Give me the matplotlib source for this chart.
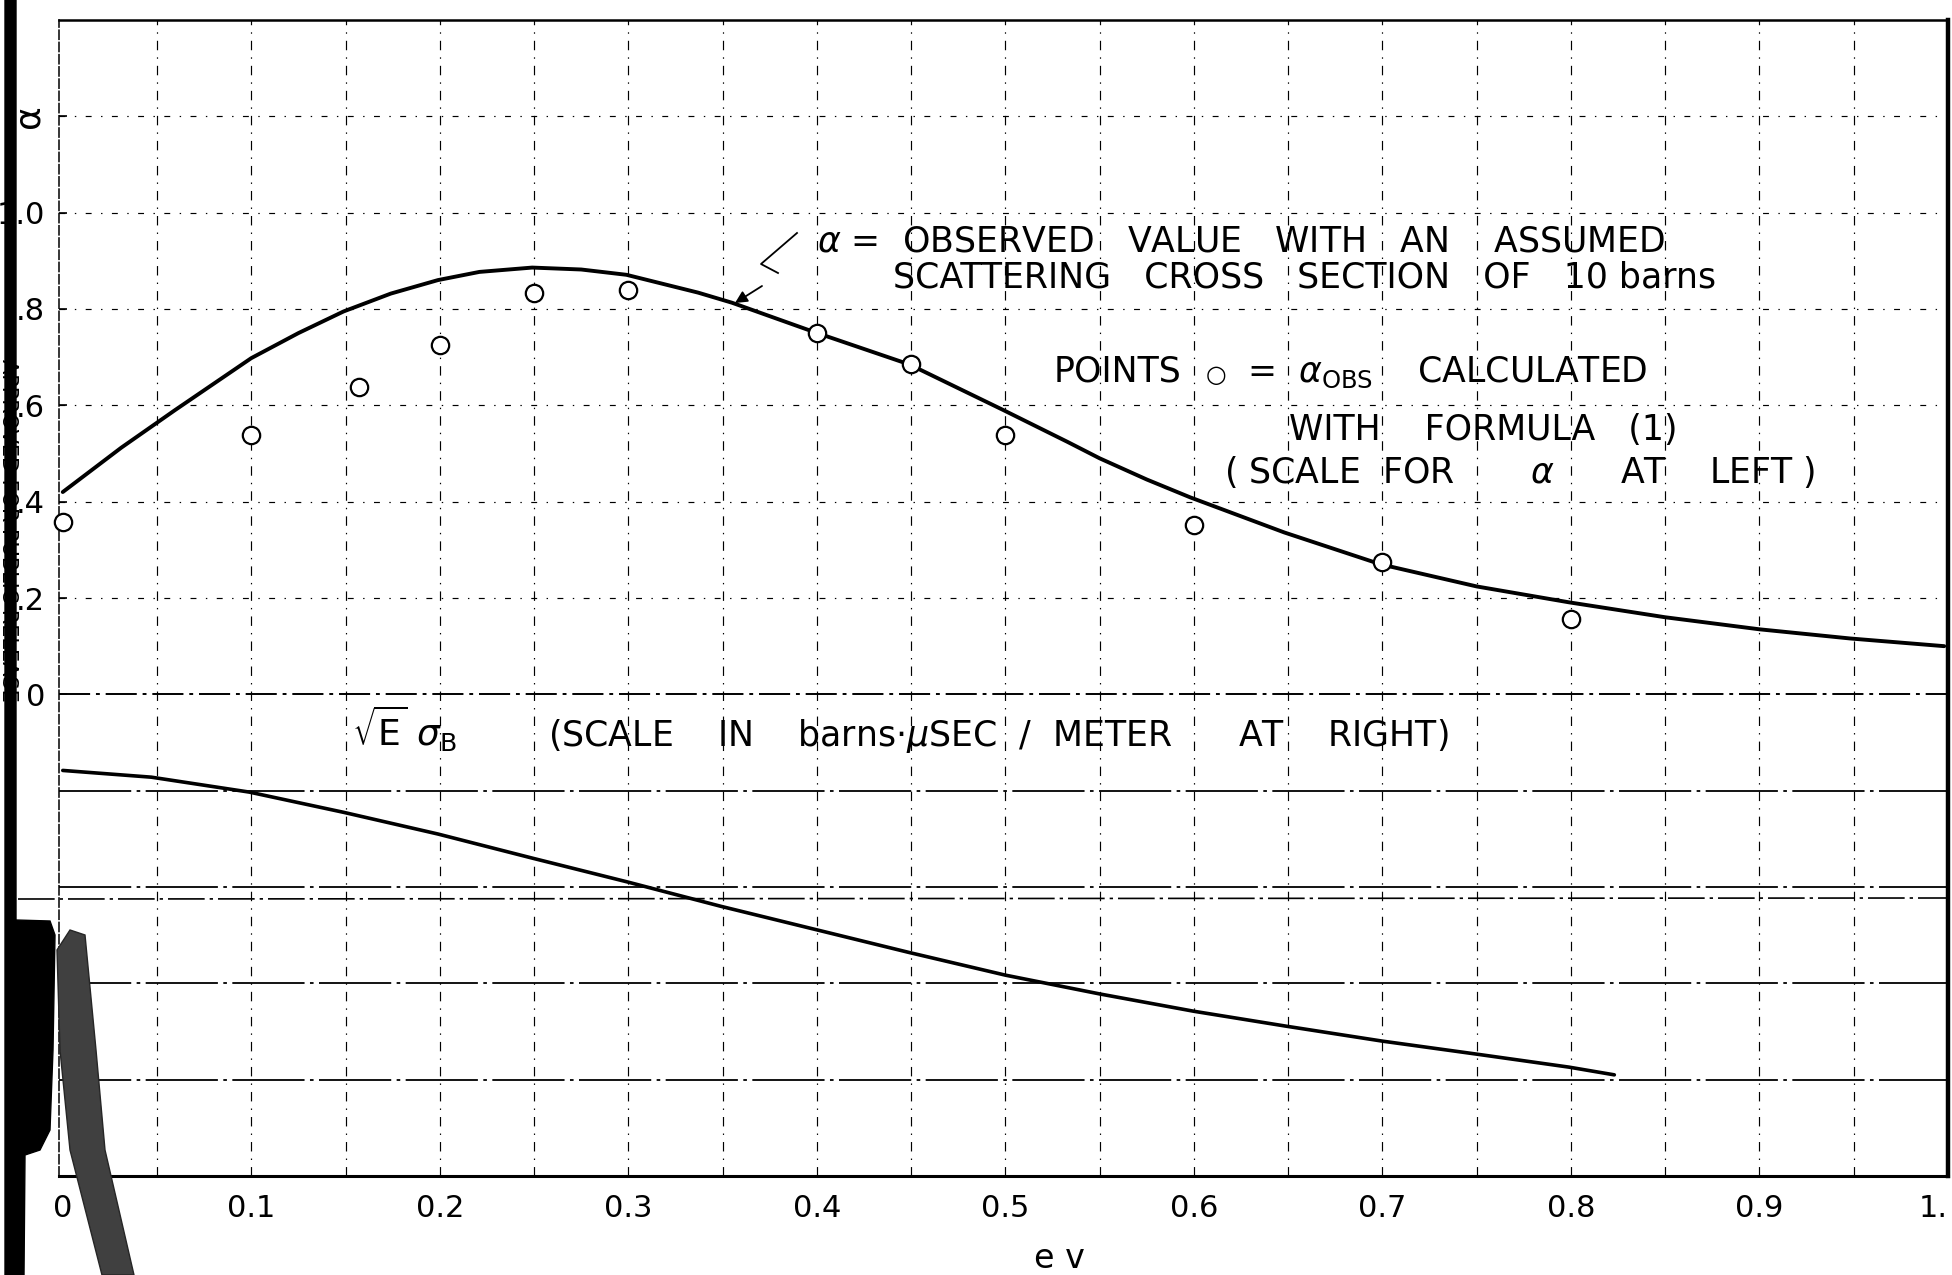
import matplotlib as mpl
mpl.use('Agg')
import matplotlib.pyplot as plt
from matplotlib.lines import Line2D
from matplotlib.patches import Polygon

plt.rcParams['font.family'] = ['DejaVu Sans']
plt.rcParams['mathtext.fontset'] = 'dejavusans'

W, H = 1952, 1275

# alpha = observed value with an assumed scattering cross section of 10 barns (left scale)
alpha_e = [0.0, 0.031, 0.0595, 0.10, 0.125, 0.149, 0.174, 0.199, 0.221, 0.249, 0.275,
           0.299, 0.337, 0.355, 0.398, 0.449, 0.499, 0.533, 0.550, 0.575, 0.598,
           0.648, 0.699, 0.750, 0.799, 0.850, 0.900, 0.948, 0.998]
alpha_val = [0.420, 0.512, 0.590, 0.698, 0.750, 0.795, 0.832, 0.860, 0.877, 0.886, 0.882,
             0.871, 0.834, 0.813, 0.753, 0.685, 0.590, 0.524, 0.490, 0.446, 0.409,
             0.336, 0.270, 0.224, 0.191, 0.160, 0.135, 0.116, 0.100]

# points: alpha_OBS calculated with formula (1)
obs_e = [0.0, 0.10, 0.157, 0.20, 0.25, 0.30, 0.40, 0.45, 0.50, 0.60, 0.70, 0.80]
obs_alpha = [0.357, 0.539, 0.639, 0.726, 0.834, 0.840, 0.751, 0.685, 0.539, 0.351, 0.274, 0.156]

sig_e = [0.0, 0.047, 0.099, 0.149, 0.199, 0.249, 0.300, 0.349, 0.399, 0.449, 0.500,
         0.550, 0.600, 0.649, 0.700, 0.750, 0.799, 0.823]
sig_val = [-0.158, -0.172, -0.203, -0.245, -0.290, -0.340, -0.390, -0.440, -0.488, -0.536,
           -0.583, -0.622, -0.658, -0.689, -0.720, -0.747, -0.774, -0.790]

x_ticks = [0.0, 0.1, 0.2, 0.3, 0.4, 0.5, 0.6, 0.7, 0.8, 0.9, 1.0]
x_ticklabels = ['0', '0.1', '0.2', '0.3', '0.4', '0.5', '0.6', '0.7', '0.8', '0.9', '1.']
y_ticks = [0.0, 0.2, 0.4, 0.6, 0.8, 1.0, 1.2]
y_ticklabels = ['0', '.2', '.4', '.6', '.8', '1.0', 'α']


def fx(px):
    return px / W


def fy(py):
    return 1 - py / H


fig = plt.figure(figsize=(W / 100, H / 100), dpi=100)
fig.patch.set_facecolor('white')
ax = fig.add_axes([fx(59), fy(1176), fx(1948) - fx(59), fy(20) - fy(1176)])
ax.set_xlim(-0.002, 1.0)
ax.set_ylim(-1.0, 1.4)

# hand drawn grid
for i in range(1, 20):
    ax.axvline(i * 0.05, color='k', lw=0.85, ls=(0, (8, 6, 1.2, 6)), zorder=1)
for y in [0.2, 0.4, 0.6, 0.8, 1.0, 1.2]:
    ax.axhline(y, color='k', lw=0.85, ls=(0, (5, 8, 1.2, 8)), zorder=1)
ax.axhline(0.0, color='k', lw=1.4, ls=(0, (16, 3, 2, 3)), zorder=1)
for y in [-0.2, -0.4, -0.6, -0.8]:
    ax.axhline(y, color='k', lw=1.3, ls=(0, (40, 3, 2, 3)), zorder=1)

ax.plot(alpha_e, alpha_val, color='k', lw=2.8, solid_capstyle='round',
        solid_joinstyle='round', zorder=3)
ax.plot(sig_e, sig_val, color='k', lw=2.6, solid_capstyle='round',
        solid_joinstyle='round', zorder=3)
ax.plot(obs_e, obs_alpha, 'o', mfc='white', mec='k', ms=12.5, mew=1.6,
        clip_on=False, zorder=5)

ax.set_xticks(x_ticks)
ax.set_xticklabels(x_ticklabels)
ax.set_yticks(y_ticks)
ax.set_yticklabels(y_ticklabels, family=['Liberation Sans Narrow', 'DejaVu Sans'])
ax.tick_params(axis='x', length=0, pad=13, labelsize=22)
ax.tick_params(axis='y', direction='in', length=6, width=1.2, pad=10, labelsize=22)
ax.get_xticklabels()[-1].set_ha('right')
a_lab = ax.get_yticklabels()[-1]
a_lab.set_rotation(90)
a_lab.set_va('center')
a_lab.set_fontsize(26)

ax.spines['top'].set_linewidth(1.8)
ax.spines['right'].set_linewidth(3.2)
ax.spines['bottom'].set_linewidth(2.2)
ax.spines['left'].set_linewidth(1.1)
ax.spines['left'].set_linestyle((0, (6, 2)))

ax.set_xlabel('e v', fontsize=24)
ax.xaxis.set_label_coords((1059 - 59) / 1889, (1176 - 1259) / 1156)
ax.xaxis.label.set_va('center')

# annotations
tkw = dict(fontsize=25, ha='left', va='baseline', color='k')
fig.text(fx(817), fy(251), r'$\alpha$ =  OBSERVED   VALUE   WITH   AN    ASSUMED', **tkw)
fig.text(fx(893), fy(288), 'SCATTERING   CROSS   SECTION   OF   10 barns', **tkw)
fig.text(fx(1054), fy(382), 'POINTS', **tkw)
fig.text(fx(1206), fy(382), '○', fontsize=17, ha='left', va='baseline')
fig.text(fx(1247), fy(382), r'=  $\alpha_{\mathrm{OBS}}$    CALCULATED', **tkw)
fig.text(fx(1289), fy(440), 'WITH    FORMULA   (1)', **tkw)
fig.text(fx(1224), fy(483), r'( SCALE  FOR       $\alpha$      AT    LEFT )', **tkw)
fig.text(fx(352), fy(746), r'$\sqrt{\mathrm{E}}\ \sigma_{\mathrm{B}}$', fontsize=26,
         ha='left', va='baseline')
fig.text(fx(548), fy(746),
         r'(SCALE    IN    barns$\cdot\mu$SEC  /  METER      AT    RIGHT)', **tkw)

# leader to the alpha curve
fig.add_artist(Line2D([fx(797), fx(761), fx(778)], [fy(233), fy(264), fy(273)],
                      color='k', lw=1.3))
ax.annotate('', xy=(735, H - 303), xycoords='figure pixels',
            xytext=(762, H - 286), textcoords='figure pixels',
            arrowprops=dict(arrowstyle='-|>', color='k', lw=1.3,
                            mutation_scale=18, shrinkA=0, shrinkB=0))

# stray ruling line across the sheet
fig.add_artist(Line2D([fx(18), fx(1948)], [fy(899), fy(898)], color='k', lw=1.2,
                      ls=(0, (22, 3, 2, 3))))

# scan edge: release stamp, binding bar and shadow
fig.text(fx(8), fy(530), 'APPROVED FOR PUBLIC RELEASE', fontsize=15,
         rotation=-90, ha='center', va='center', color='k')
bar = [(5, 0), (16, 0), (16, 920), (50, 921), (55, 935), (53, 1050), (50, 1130),
       (40, 1150), (25, 1155), (24, 1275), (5, 1275)]
fig.add_artist(Polygon([(fx(x), fy(y)) for x, y in bar], closed=True,
                       facecolor='k', edgecolor='k', transform=fig.transFigure))
band = [(57, 950), (70, 930), (85, 935), (96, 1050), (105, 1150), (134, 1275),
        (102, 1275), (70, 1150), (60, 1050)]
fig.add_artist(Polygon([(fx(x), fy(y)) for x, y in band], closed=True,
                       facecolor='0.25', edgecolor='0.15', transform=fig.transFigure))

fig.savefig('out.png', dpi=100)
